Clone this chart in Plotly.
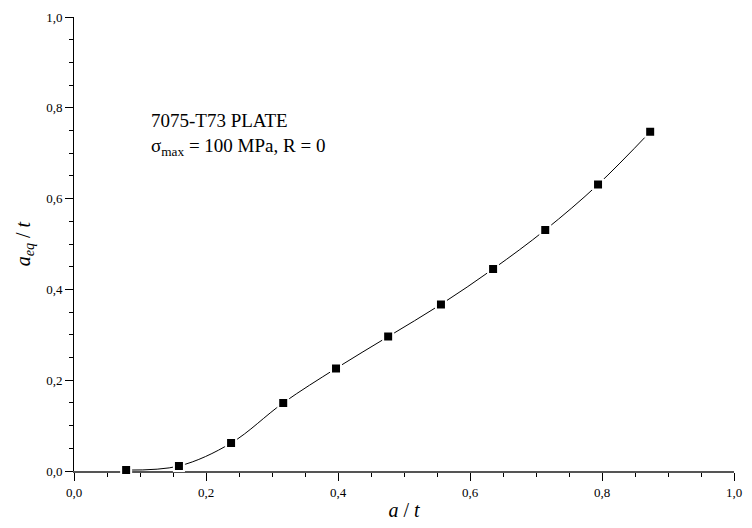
import plotly.graph_objects as go

a_over_t = [0.079, 0.159, 0.238, 0.317, 0.397, 0.476, 0.556, 0.635, 0.714, 0.794, 0.873]
aeq_over_t = [0.002, 0.011, 0.0615, 0.150, 0.226, 0.296, 0.367, 0.445, 0.531, 0.631, 0.747]

x_ticks = [0.0, 0.2, 0.4, 0.6, 0.8, 1.0]
y_ticks = [0.0, 0.2, 0.4, 0.6, 0.8, 1.0]

FONT = "Liberation Serif, Times New Roman, serif"

fig = go.Figure()
fig.add_trace(go.Scatter(
    x=a_over_t, y=aeq_over_t, mode="lines",
    line=dict(color="black", width=1, shape="spline", smoothing=1.0),
    hoverinfo="skip", showlegend=False, cliponaxis=True,
))
fig.add_trace(go.Scatter(
    x=a_over_t, y=aeq_over_t, mode="markers",
    marker=dict(symbol="square", size=10, color="black",
                line=dict(color="white", width=2)),
    showlegend=False, cliponaxis=False,
))

axis_common = dict(
    showgrid=False, zeroline=False, ticks="outside", ticklen=8, tickwidth=1,
    tickcolor="black", tickformat=".1f",
    tickfont=dict(family=FONT, size=13, color="black"),
    minor=dict(ticks="outside", ticklen=4, tickwidth=1, tickcolor="black", dtick=0.05),
    layer="below traces",
)

fig.update_xaxes(
    range=[0, 1.0], tickvals=x_ticks, showline=True, linecolor="#555555", linewidth=2,
    title=dict(text="<i>a</i> / <i>t</i>", font=dict(family=FONT, size=20, color="black"), standoff=4),
    **axis_common,
)
fig.update_yaxes(
    range=[0, 1.0], tickvals=y_ticks, showline=True, linecolor="black", linewidth=1,
    title=dict(text="<i>a</i><sub><i>eq</i></sub> / <i>t</i>", font=dict(family=FONT, size=20, color="black"), standoff=10),
    **axis_common,
)

fig.add_annotation(x=0.114, y=0.80, xref="x", yref="y", xanchor="left", yanchor="top",
                   align="left",
                   text="7075-T73 PLATE<br>σ<sub>max</sub> = 100 MPa, R = 0", showarrow=False,
                   font=dict(family=FONT, size=19, color="black"))

fig.update_layout(
    width=752, height=528,
    margin=dict(l=74, r=10, t=16, b=45),
    paper_bgcolor="white", plot_bgcolor="white",
    separators=",.",
    font=dict(family=FONT, color="black"),
)

fig.write_html("out.html")
